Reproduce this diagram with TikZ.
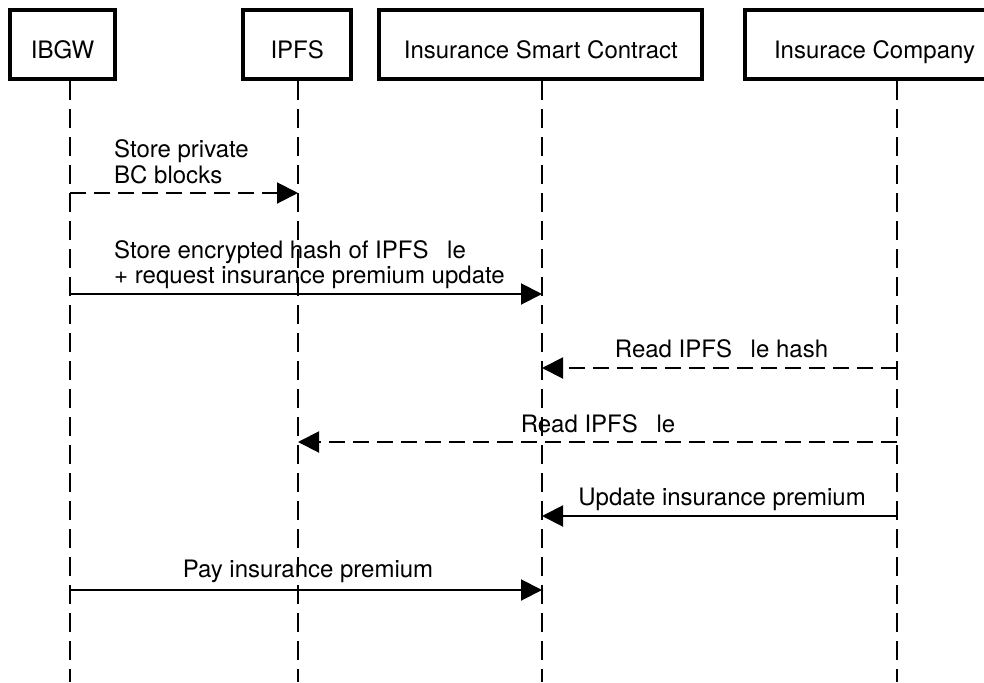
\documentclass[tikz,border=0pt]{standalone}
\usepackage{fontspec}
\setmainfont{TeX Gyre Heros}
\usetikzlibrary{arrows.meta}
\begin{document}
\begin{tikzpicture}[x=1pt,y=-1pt,
  actor/.style={draw, line width=4pt, inner sep=0pt,
    font=\fontsize{24}{26}\selectfont, text height=27.3pt, text depth=0pt},
  life/.style={line width=2pt, dash pattern=on 19pt off 9pt},
  msg/.style={line width=2pt, -{Triangle[length=21pt,width=21pt]}},
  async/.style={msg, dash pattern=on 16pt off 8pt},
  lbl/.style={inner sep=0pt, font=\fontsize{24}{26}\selectfont}]
\useasboundingbox (0,0) rectangle (984,682);
\clip (0,0) rectangle (984,682);

% participants
\node[actor, minimum width=104.4pt, minimum height=68.7pt] (ibgw) at (62.5,44.65) {IBGW};
\node[actor, minimum width=108.3pt, minimum height=68.7pt] (ipfs) at (297.2,44.65) {IPFS};
\node[actor, minimum width=323pt, minimum height=68.7pt] (isc) at (540.8,44.65) {Insurance Smart Contract};
\node[actor, minimum width=258.4pt, minimum height=68.7pt] (ic) at (874.5,44.65) {Insurace Company};

% lifeline heads
\coordinate (la) at (70,81);
\coordinate (lb) at (298,81);
\coordinate (lc) at (542,81);
\coordinate (ld) at (897,81);

\foreach \l in {la,lb,lc,ld}
  \draw[life] (\l) -- (\l |- 0,682);

% messages
\draw[async] (la |- 0,193) -- (lb |- 0,193);
\node[lbl, anchor=base west] (m1a) at (114,157) {Store private};
\node[lbl, anchor=base west] (m1b) at (114,183) {BC blocks};

\draw[msg] (la |- 0,294) -- (lc |- 0,294);
\node[lbl, anchor=base west] (m2a) at (114,258) {Store encrypted hash of IPFS \phantom{fi}le};
\node[lbl, anchor=base west] (m2b) at (114,283) {+ request insurance premium update};

\draw[async] (ld |- 0,368) -- (lc |- 0,368);
\node[lbl, anchor=base] (m3) at (721.5,357) {Read IPFS \phantom{fi}le hash};

\draw[async] (ld |- 0,442) -- (lb |- 0,442);
\node[lbl, anchor=base] (m4) at (598,432) {Read IPFS \phantom{fi}le};

\draw[msg] (ld |- 0,516) -- (lc |- 0,516);
\node[lbl, anchor=base] (m5) at (722,505) {Update insurance premium};

\draw[msg] (la |- 0,590) -- (lc |- 0,590);
\node[lbl, anchor=base] (m6) at (308,577) {Pay insurance premium};
\end{tikzpicture}
\end{document}
